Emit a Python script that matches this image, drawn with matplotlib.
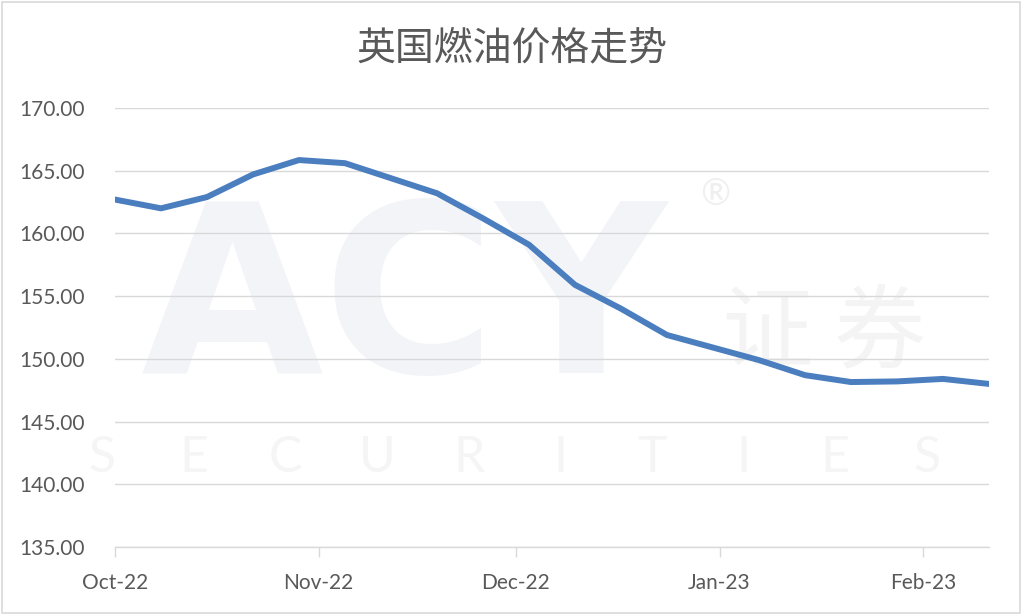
"""
plot.py — UK fuel price trend (weekly), Oct-22 to Feb-23.
"""
import matplotlib
matplotlib.use("Agg")
import matplotlib.pyplot as plt
import matplotlib.dates as mdates
import numpy as np
import pandas as pd
from matplotlib.patches import Rectangle

plt.rcParams["font.family"] = ["Lato", "Noto Sans CJK SC", "DejaVu Sans"]

# ── Data ──────────────────────────────────────────────────────────────────────
TITLE = "英国燃油价格走势"
START_DATE = "2022-10-03"
PRICES = [162.7, 162.0, 162.9, 164.7, 165.85, 165.6, 164.4, 163.2, 161.2, 159.1,
          155.9, 154.0, 151.9, 150.9, 149.9, 148.7, 148.15, 148.2, 148.4, 148.0]
Y_TICKS = [135, 140, 145, 150, 155, 160, 165, 170]
X_TICK_DATES = ["2022-10-03", "2022-11-03", "2022-12-03", "2023-01-03", "2023-02-03"]
WATERMARK_WORD = "SECURITIES"

dates = pd.date_range(START_DATE, periods=len(PRICES), freq="7D")
tick_dates = pd.to_datetime(X_TICK_DATES)

# ── Figure ────────────────────────────────────────────────────────────────────
fig = plt.figure(figsize=(10.24, 6.15), dpi=100)
ax = fig.add_axes([0.1123, 0.1106, 0.8535, 0.7138])
ax.set_zorder(2)
ax.set_facecolor("none")

# faint watermark behind the plot
wm = "#f3f4f8"
fig.text(0.395, 0.50, "ACY", fontsize=170, fontweight="bold", color=wm,
         ha="center", va="center", zorder=0, family="DejaVu Sans")
fig.text(0.805, 0.455, "证 券", fontsize=66, color="#f4f4f4", ha="center",
         va="center", zorder=0, family="Noto Sans CJK SC")
for xf, ch in zip(np.linspace(0.10, 0.905, len(WATERMARK_WORD)), WATERMARK_WORD):
    fig.text(xf, 0.255, ch, fontsize=36, color="#f5f5f5", ha="center",
             va="center", zorder=0)
fig.text(0.698, 0.683, "®", fontsize=26, color="#efefef", ha="center",
         va="center", zorder=0)

ax.plot(dates, PRICES, color="#4a7ebf", lw=4.3, solid_capstyle="round",
        solid_joinstyle="round", zorder=3)

ax.set_ylim(135, 170)
ax.set_yticks(Y_TICKS)
ax.yaxis.set_major_formatter(plt.FuncFormatter(lambda v, _: f"{v:.2f}"))
ax.set_xlim(dates[0], dates[-1])
ax.set_xticks(tick_dates)
ax.xaxis.set_major_formatter(mdates.DateFormatter("%b-%y"))

ax.grid(axis="y", color="#d9d9d9", lw=1.0)
ax.set_axisbelow(True)
for side in ("top", "right", "left"):
    ax.spines[side].set_visible(False)
ax.spines["bottom"].set_color("#d9d9d9")
ax.spines["bottom"].set_linewidth(1.0)

ax.tick_params(axis="y", length=0, pad=22, labelsize=15, labelcolor="#595959")
ax.tick_params(axis="x", length=7, width=1.0, color="#d9d9d9", pad=12,
               labelsize=15, labelcolor="#595959")

fig.text(0.5, 0.922, TITLE, fontsize=28, color="#595959", ha="center",
         va="center", family=["Noto Sans CJK SC", "DejaVu Sans"])

# chart border
fig.add_artist(Rectangle((0.002, 0.004), 0.994, 0.993, transform=fig.transFigure,
                         fill=False, edgecolor="#d9d9d9", lw=1.2))

fig.savefig("out.png", dpi=100)
